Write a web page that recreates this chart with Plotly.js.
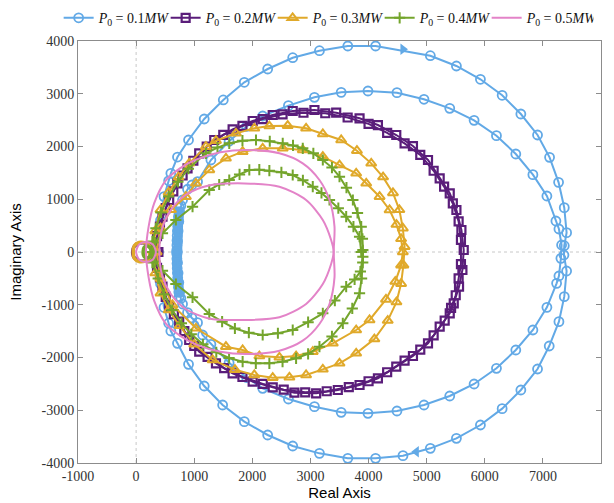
<!DOCTYPE html>
<html><head><meta charset="utf-8">
<script src="https://cdn.plot.ly/plotly-3.0.1.min.js"></script>
<style>body{margin:0;background:#fff}#c{width:614px;height:503px}</style>
</head><body><div id="c"></div>
<script>
// ---------- data ----------
const seriesNames = ['<i>P</i><sub>0</sub> = 0.1<i>MW</i>','<i>P</i><sub>0</sub> = 0.2<i>MW</i>','<i>P</i><sub>0</sub> = 0.3<i>MW</i>','<i>P</i><sub>0</sub> = 0.4<i>MW</i>','<i>P</i><sub>0</sub> = 0.5<i>MW</i>'];
const xTickVals = [-1000,0,1000,2000,3000,4000,5000,6000,7000,8000];
const xTickText = ['-1000','0','1000','2000','3000','4000','5000','6000','7000','8000'];
const yTickVals = [-4000,-3000,-2000,-1000,0,1000,2000,3000,4000];
const yTickText = ['-4000','-3000','-2000','-1000','0','1000','2000','3000','4000'];

// P0 = 0.1 MW (blue) outer loop
const blueOuterRe = [380,420,480,560,598,712,902,1172,1500,1862,2264,2695,3155,3643,4121,5063,5512,5925,6299,6621,6908,7115,7270,7368,7408,7368,7362,7408,7368,7276,7109,6908,6621,6299,5925,5512,5063,4592,4121,3643,3155,2695,2264,1862,1489,1172,902,712,598,560,480,420,380];
const blueOuterIm = [0,600,1050,1350,1491,1800,2123,2521,2882,3217,3469,3683,3816,3905,3905,3721,3526,3274,2971,2616,2218,1795,1321,840,366,119,-57,-360,-847,-1321,-1782,-2218,-2616,-2970,-3280,-3532,-3722,-3861,-3911,-3911,-3817,-3678,-3469,-3216,-2900,-2540,-2130,-1731,-1498,-1350,-1050,-600,0];
// blue inner loop
const blueInnerRe = [705,712,722,735,750,770,799,885,960,1057,1287,1600,1900,2178,2621,3069,3529,3990,4489,4954,5397,5816,6201,6534,6828,7069,7224,7276,7322,7310,7276,7236,7069,6828,6534,6201,5816,5397,4954,4489,3990,3529,3069,2621,2178,1900,1600,1287,1144,1057,960,885,799,770,750,735,722,712,705];
const blueInnerIm = [0,200,400,580,760,880,986,1190,1270,1333,1744,2100,2380,2578,2774,2932,3027,3052,3020,2895,2724,2496,2205,1858,1466,1062,588,436,133,-120,-455,-594,-1049,-1479,-1858,-2205,-2502,-2730,-2900,-3014,-3058,-3039,-2932,-2787,-2584,-2380,-2100,-1750,-1573,-1340,-1250,-1150,-986,-880,-760,-580,-400,-200,0];
// blue dense band of overlapping markers on the left
const blueBandRe = [740,735,728,722,716,711,707,704,702,701,700,701,702,704,707,711,716,722,728,735,740];
const blueBandIm = [850,760,670,580,490,400,310,220,130,40,0,-40,-130,-220,-310,-400,-490,-580,-670,-760,-850];
// direction arrows on the blue outer loop
const arrowRe = [4592,4822];
const arrowIm = [3842,-3785];

// P0 = 0.2 MW (purple) two close loops
const purple1Re = [330,360,454,569,712,885,1086,1345,1661,2006,2351,2695,3069,3443,3845,4161,4477,4764,5023,5224,5397,5512,5598,5638,5615,5557,5466,5397,5224,5023,4764,4477,4161,3845,3471,3098,2724,2351,2006,1661,1374,1086,914,741,569,454,360,330];
const purple1Im = [0,300,669,986,1302,1587,1871,2123,2325,2483,2597,2673,2692,2641,2535,2407,2218,2009,1744,1397,1113,796,417,38,-341,-657,-973,-1163,-1415,-1731,-1972,-2174,-2395,-2521,-2616,-2679,-2667,-2565,-2458,-2300,-2111,-1890,-1668,-1321,-1037,-657,-300,0];
const purple2Re = [380,410,510,640,800,985,1215,1500,1830,2180,2520,2880,3255,3640,4000,4320,4620,4890,5120,5300,5450,5550,5590,5590,5550,5500,5420,5310,5120,4890,4620,4320,4000,3660,3280,2910,2540,2180,1830,1515,1230,1000,830,650,510,410,380];
const purple2Im = [0,480,830,1150,1450,1730,2000,2220,2390,2520,2610,2640,2630,2550,2430,2260,2060,1840,1540,1240,920,580,230,-230,-500,-820,-1060,-1300,-1580,-1850,-2060,-2280,-2450,-2560,-2640,-2660,-2610,-2500,-2370,-2200,-1990,-1780,-1500,-1180,-850,-480,0];
const purpleSmallRe = [300,200,60,-30,-60,-30,60,200,300];
const purpleSmallIm = [0,150,170,110,0,-110,-170,-150,0];

// P0 = 0.3 MW (yellow) two loops
const yellow1Re = [300,330,420,560,730,914,1201,1374,1718,2034,2293,2609,2925,3213,3529,3800,4046,4250,4420,4530,4590,4620,4600,4560,4480,4330,4100,3787,3500,3213,2925,2638,2351,2034,1700,1316,1000,750,560,420,330,300];
const yellow1Im = [0,400,800,1130,1420,1681,1997,2110,2249,2344,2388,2395,2344,2237,2123,1920,1681,1420,1120,800,450,100,-250,-600,-950,-1300,-1650,-1921,-2111,-2224,-2332,-2376,-2382,-2332,-2230,-2047,-1750,-1400,-1100,-780,-400,0];
const yellow2Re = [350,420,600,856,1029,1259,1546,1833,2178,2523,2868,3213,3500,3787,3960,4190,4362,4480,4560,4590,4560,4460,4300,4017,3787,3385,3040,2753,2466,2121,1833,1546,1029,626,420,350];
const yellow2Im = [0,450,800,1049,1302,1555,1776,1902,1966,1966,1934,1807,1649,1491,1302,1049,796,520,250,0,-250,-560,-900,-1289,-1479,-1731,-1890,-1972,-1996,-1972,-1858,-1795,-1447,-1005,-500,0];
const yellowSmallRe = [280,190,50,-30,-50,-30,50,190,280];
const yellowSmallIm = [0,160,180,120,0,-120,-180,-160,0];

// P0 = 0.4 MW (green) two loops
const green1Re = [250,280,340,430,560,720,900,1201,1400,1603,1830,2063,2300,2523,2700,2868,3050,3213,3370,3500,3620,3730,3810,3874,3895,3902,3900,3880,3845,3720,3557,3370,3155,2960,2753,2520,2293,2060,1833,1600,1380,1150,950,780,620,480,380,280,250];
const green1Im = [0,200,450,750,1050,1330,1580,1871,1980,2060,2110,2123,2100,2060,2020,1966,1870,1744,1600,1428,1220,986,740,480,250,38,-200,-500,-783,-1070,-1352,-1600,-1795,-1930,-2016,-2080,-2111,-2110,-2079,-2010,-1900,-1750,-1560,-1350,-1100,-800,-500,-200,0];
const green2Re = [300,330,454,684,971,1259,1430,1603,1780,1948,2120,2293,2500,2695,2870,3040,3190,3328,3480,3615,3740,3845,3874,3902,3860,3760,3615,3420,3213,2960,2695,2440,2178,1940,1700,1480,1259,971,684,454,330,300];
const green2Im = [0,180,354,607,859,1175,1280,1365,1470,1555,1560,1541,1510,1460,1360,1238,1120,986,830,669,480,290,0,-88,-370,-520,-657,-920,-1163,-1330,-1479,-1540,-1573,-1530,-1450,-1320,-1175,-859,-607,-354,-180,0];
const greenSmallRe = [280,200,140,120,140,200,280];
const greenSmallIm = [0,110,90,0,-90,-110,0];

// P0 = 0.5 MW (pink) loops, no markers
const pink1Re = [170,215,310,512,760,1029,1450,1920,2466,2868,3155,3328,3414,3400,3414,3328,3155,2868,2466,1920,1450,1029,760,512,310,215,170];
const pink1Im = [0,480,922,1360,1590,1750,1890,1934,1871,1681,1365,986,480,0,-480,-986,-1365,-1681,-1871,-1934,-1890,-1750,-1590,-1360,-922,-480,0];
const pink2Re = [400,450,600,850,1250,1862,2466,2925,3213,3356,3400,3356,3213,2925,2466,1891,1250,850,600,450,400];
const pink2Im = [0,450,800,1080,1260,1300,1238,986,607,227,0,-227,-607,-986,-1238,-1289,-1260,-1080,-800,-450,0];
const pinkSmallRe = [0,50,170,290,340,290,170,50,0];
const pinkSmallIm = [0,140,190,140,0,-140,-190,-140,0];

// ---------- styles ----------
const C = {blue:'#62a9e6', purple:'#5a1d7a', yellow:'#e0a92a', green:'#74a52c', pink:'#e383c8'};
const SERIF = 'Liberation Serif';
const SANS = 'Liberation Sans';

function tr(x, y, color, symbol, name, legend, opts) {
  opts = opts || {};
  const t = {
    x: x, y: y, type: 'scatter',
    mode: symbol ? 'lines+markers' : 'lines',
    name: name || '', showlegend: !!legend,
    legendgroup: opts.group,
    line: {color: color, width: opts.lw || 2, shape: opts.shape || 'linear', smoothing: 0.8},
    hoverinfo: 'skip'
  };
  if (symbol) t.marker = {symbol: symbol, size: opts.ms || 8, color: color, line: {color: color, width: opts.mlw || 1.8}};
  return t;
}

const traces = [
  tr(blueBandRe, blueBandIm, C.blue, 'circle-open', '', false, {group:'a', ms:9, lw:9}),
  tr(blueOuterRe, blueOuterIm, C.blue, 'circle-open', seriesNames[0], true, {group:'a', ms:9}),
  tr(blueInnerRe, blueInnerIm, C.blue, 'circle-open', '', false, {group:'a', ms:9}),
  tr(purple1Re, purple1Im, C.purple, 'square-open', seriesNames[1], true, {group:'b', ms:8, mlw:2.2}),
  tr(purple2Re, purple2Im, C.purple, 'square-open', '', false, {group:'b', ms:8, mlw:2.2}),
  tr(purpleSmallRe, purpleSmallIm, C.purple, null, '', false, {group:'b', lw:3.5, shape:'spline'}),
  tr(yellow1Re, yellow1Im, C.yellow, 'triangle-up-open', seriesNames[2], true, {group:'c', ms:9, mlw:2}),
  tr(yellow2Re, yellow2Im, C.yellow, 'triangle-up-open', '', false, {group:'c', ms:9, mlw:2}),
  tr(yellowSmallRe, yellowSmallIm, C.yellow, null, '', false, {group:'c', lw:3.5, shape:'spline'}),
  tr(green1Re, green1Im, C.green, 'cross-thin-open', seriesNames[3], true, {group:'d', ms:8, mlw:2}),
  tr(green2Re, green2Im, C.green, 'cross-thin-open', '', false, {group:'d', ms:8, mlw:2}),
  tr(greenSmallRe, greenSmallIm, C.green, null, '', false, {group:'d', lw:3.5, shape:'spline'}),
  tr(pink1Re, pink1Im, C.pink, null, seriesNames[4], true, {group:'e', shape:'spline'}),
  tr(pink2Re, pink2Im, C.pink, null, '', false, {group:'e', shape:'spline'}),
  tr(pinkSmallRe, pinkSmallIm, C.pink, null, '', false, {group:'e', shape:'spline'}),
  {x: arrowRe.slice(0,1), y: arrowIm.slice(0,1), type:'scatter', mode:'markers', showlegend:false, hoverinfo:'skip',
   marker:{symbol:'triangle-right', size:10, color:C.blue}},
  {x: arrowRe.slice(1), y: arrowIm.slice(1), type:'scatter', mode:'markers', showlegend:false, hoverinfo:'skip',
   marker:{symbol:'triangle-left', size:10, color:C.blue}}
];

const axisCommon = {
  showgrid:false, zeroline:false, showline:true, mirror:'ticks',
  linecolor:'#8c8c8c', linewidth:1, ticks:'inside', ticklen:5, tickcolor:'#8c8c8c',
  tickfont:{family:SERIF, size:14, color:'#333'},
  tickmode:'array', automargin:false
};

const layout = {
  width:614, height:503,
  margin:{l:78, r:13, t:41, b:40, autoexpand:false},
  paper_bgcolor:'#fff', plot_bgcolor:'#fff',
  xaxis: Object.assign({}, axisCommon, {
    range:[-1000,8000], tickvals:xTickVals, ticktext:xTickText,
    title:{text:'Real Axis', font:{family:SANS, size:15, color:'#000'}, standoff:2}
  }),
  yaxis: Object.assign({}, axisCommon, {
    range:[-4000,4000], tickvals:yTickVals, ticktext:yTickText,
    title:{text:'Imaginary Axis', font:{family:SANS, size:15, color:'#000'}, standoff:16}
  }),
  shapes:[
    {type:'line', xref:'x', yref:'paper', x0:0, x1:0, y0:0, y1:1, line:{color:'#c8c8c8', width:1, dash:'dot'}, layer:'below'},
    {type:'line', xref:'paper', yref:'y', x0:0, x1:1, y0:0, y1:0, line:{color:'#c8c8c8', width:1, dash:'dot'}, layer:'below'}
  ],
  legend:{orientation:'h', x:-0.037, y:1.092, xanchor:'left', yanchor:'top',
    font:{family:SERIF, size:14, color:'#111'},
    bgcolor:'rgba(255,255,255,0)', itemwidth:30, entrywidth:62, entrywidthmode:'pixels', traceorder:'normal'},
  showlegend:true
};

Plotly.newPlot('c', traces, layout, {staticPlot:true, displayModeBar:false});
</script>
</body></html>
